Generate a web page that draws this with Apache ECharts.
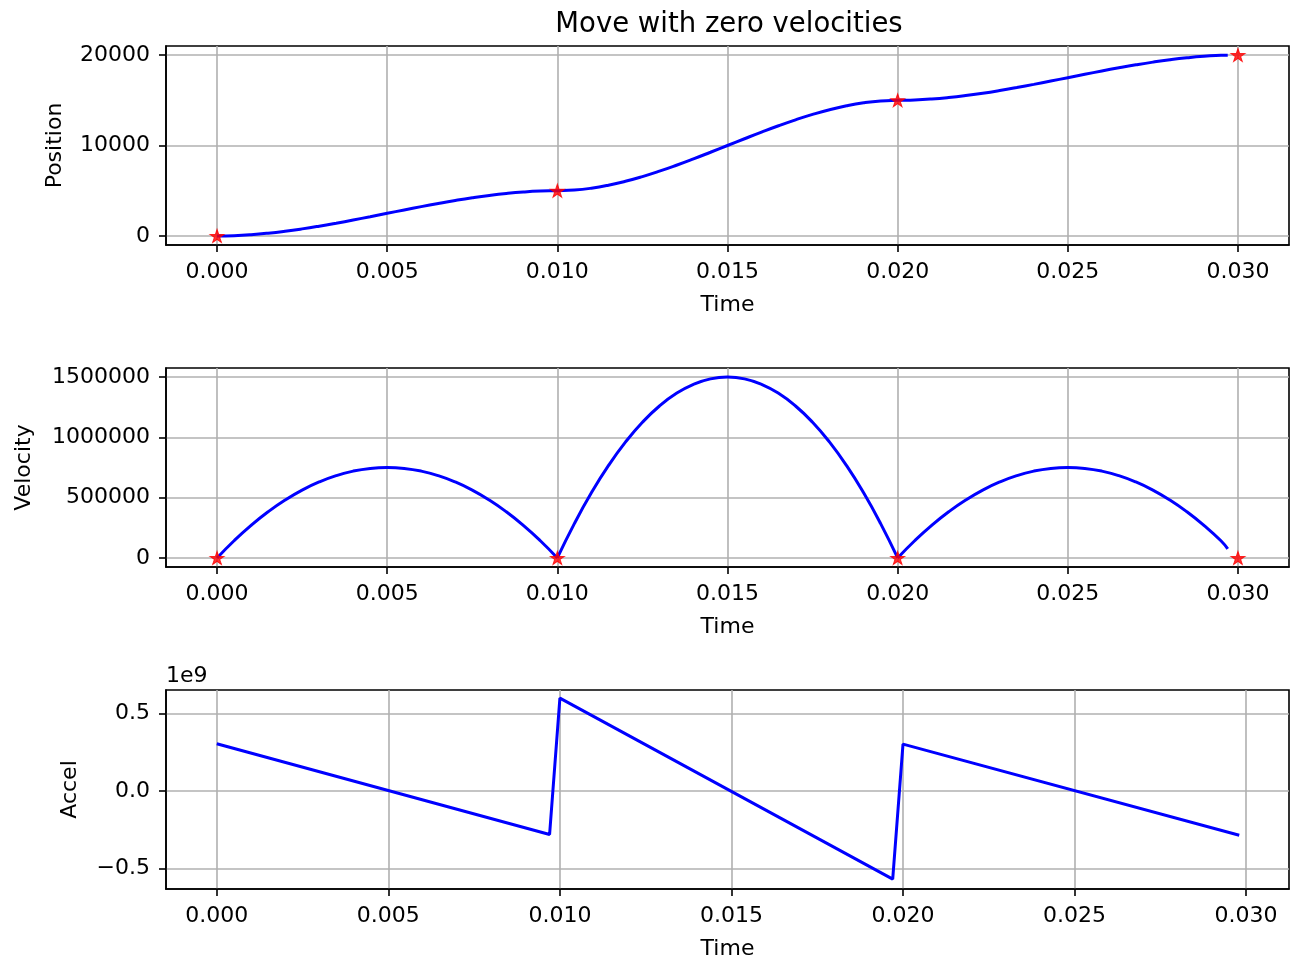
<!DOCTYPE html>
<html>
<head>
<meta charset="utf-8">
<title>Move with zero velocities</title>
<script src="https://cdn.jsdelivr.net/npm/echarts@6/dist/echarts.min.js"></script>
<style>
  html, body { margin: 0; padding: 0; background: #fff; }
  #main { width: 1291px; height: 961px; }
</style>
</head>
<body>
<div id="main"></div>
<script>
// sample times (s) and values
var time = [0, 0.0005, 0.001, 0.0015, 0.002, 0.0025, 0.003, 0.0035, 0.004, 0.0045,
            0.005, 0.0055, 0.006, 0.0065, 0.007, 0.0075, 0.008, 0.0085, 0.009, 0.0095,
            0.010, 0.0105, 0.011, 0.0115, 0.012, 0.0125, 0.013, 0.0135, 0.014, 0.0145,
            0.015, 0.0155, 0.016, 0.0165, 0.017, 0.0175, 0.018, 0.0185, 0.019, 0.0195,
            0.020, 0.0205, 0.021, 0.0215, 0.022, 0.0225, 0.023, 0.0235, 0.024, 0.0245,
            0.025, 0.0255, 0.026, 0.0265, 0.027, 0.0275, 0.028, 0.0285, 0.029, 0.0295, 0.0297];
var position = [0, 36, 140, 304, 520, 781, 1080, 1409, 1760, 2126,
                2500, 2874, 3240, 3591, 3920, 4219, 4480, 4696, 4860, 4964,
                5000, 5073, 5280, 5608, 6040, 6563, 7160, 7818, 8520, 9253,
                10000, 10748, 11480, 12183, 12840, 13438, 13960, 14393, 14720, 14928,
                15000, 15036, 15140, 15304, 15520, 15781, 16080, 16409, 16760, 17126,
                17500, 17874, 18240, 18591, 18920, 19219, 19480, 19696, 19860, 19964, 19987];
var velocity = [0, 142500, 270000, 382500, 480000, 562500, 630000, 682500, 720000, 742500,
                750000, 742500, 720000, 682500, 630000, 562500, 480000, 382500, 270000, 142500,
                0, 285000, 540000, 765000, 960000, 1125000, 1260000, 1365000, 1440000, 1485000,
                1500000, 1485000, 1440000, 1365000, 1260000, 1125000, 960000, 765000, 540000, 285000,
                0, 142500, 270000, 382500, 480000, 562500, 630000, 682500, 720000, 742500,
                750000, 742500, 720000, 682500, 630000, 562500, 480000, 382500, 270000, 142500, 75000];
var accelTime = [0, 0.0097, 0.0100, 0.0197, 0.0200, 0.0298];
var accel = [3.05e8, -2.8e8, 6.0e8, -5.68e8, 3.03e8, -2.85e8];

// waypoints (red stars)
var wpTime = [0, 0.01, 0.02, 0.03];
var wpPos = [0, 5000, 15000, 20000];
var wpVel = [0, 0, 0, 0];

// tick labels
var xTicks = [0, 0.005, 0.010, 0.015, 0.020, 0.025, 0.030];
var posTicks = [0, 10000, 20000];
var velTicks = [0, 500000, 1000000, 1500000];
var accTicks = [-5e8, 0, 5e8];

var FONT = 'DejaVu Sans';
var BLUE = '#0000ff';
var STAR = 'path://M0,-1L-0.2245,-0.309L-0.9511,-0.309L-0.3633,0.118L-0.5878,0.809L0,0.382L0.5878,0.809L0.3633,0.118L0.9511,-0.309L0.2245,-0.309Z';

function zip(xs, ys) {
    var out = [];
    for (var i = 0; i < xs.length; i++) out.push([xs[i], ys[i]]);
    return out;
}

function xAxisFor(idx, min, max) {
    return {
        type: 'value', gridIndex: idx, min: min, max: max,
        axisLine: { show: true, onZero: false, lineStyle: { color: '#000', width: 1.6 } },
        axisTick: { show: true, length: 7, customValues: xTicks, lineStyle: { color: '#000', width: 1.6 } },
        axisLabel: { customValues: xTicks, color: '#000', fontSize: 22, fontFamily: FONT, margin: 16,
            formatter: function (v) { return v.toFixed(3); } },
        splitLine: { show: true, lineStyle: { color: '#b0b0b0', width: 1.6 } },
        name: 'Time', nameLocation: 'middle', nameGap: 49,
        nameTextStyle: { color: '#000', fontSize: 22, fontFamily: FONT }
    };
}

function yAxisFor(idx, min, max, ticks, name, gap, fmt) {
    return {
        type: 'value', gridIndex: idx, min: min, max: max,
        axisLine: { show: true, onZero: false, lineStyle: { color: '#000', width: 1.6 } },
        axisTick: { show: true, length: 7, customValues: ticks, lineStyle: { color: '#000', width: 1.6 } },
        axisLabel: { customValues: ticks, color: '#000', fontSize: 22, fontFamily: FONT, margin: 16, formatter: fmt },
        splitLine: { show: true, lineStyle: { color: '#b0b0b0', width: 1.6 } },
        name: name, nameLocation: 'middle', nameGap: gap,
        nameTextStyle: { color: '#000', fontSize: 22, fontFamily: FONT }
    };
}

function blueLine(xi, data, smooth) {
    return {
        type: 'line', xAxisIndex: xi, yAxisIndex: xi, data: data, smooth: smooth,
        showSymbol: false, symbol: 'none', animation: false,
        lineStyle: { color: BLUE, width: 3 }, z: 3
    };
}

function stars(xi, data) {
    return {
        type: 'scatter', xAxisIndex: xi, yAxisIndex: xi, data: data,
        symbol: STAR, symbolSize: [14, 13], animation: false,
        itemStyle: { color: '#ff0000', borderColor: '#ff0000', borderWidth: 1 }, z: 4
    };
}

var myChart = echarts.init(document.getElementById('main'));

var velData = zip(time, velocity);

var option = {
    backgroundColor: '#fff',
    animation: false,
    title: {
        text: 'Move with zero velocities', left: 724, top: 6, textAlign: 'center',
        textStyle: { color: '#000', fontSize: 27.5, fontWeight: 'normal', fontFamily: FONT }
    },
    graphic: [{
        type: 'text', left: 166, top: 665,
        style: { text: '1e9', fill: '#000', fontSize: 22, fontFamily: FONT }
    }],
    grid: [
        { left: 166, top: 46, width: 1123, height: 199, show: true, borderColor: '#000', borderWidth: 1.6 },
        { left: 166, top: 368, width: 1123, height: 199, show: true, borderColor: '#000', borderWidth: 1.6 },
        { left: 166, top: 690, width: 1123, height: 199, show: true, borderColor: '#000', borderWidth: 1.6 }
    ],
    xAxis: [
        xAxisFor(0, -0.0015, 0.0315),
        xAxisFor(1, -0.0015, 0.0315),
        xAxisFor(2, -0.00148, 0.03125)
    ],
    yAxis: [
        yAxisFor(0, -1000, 21000, posTicks, 'Position', 100, function (v) { return String(v); }),
        yAxisFor(1, -75000, 1575000, velTicks, 'Velocity', 131, function (v) { return String(v); }),
        yAxisFor(2, -6.32e8, 6.52e8, accTicks, 'Accel', 85, function (v) {
            var s = (v / 1e9).toFixed(1);
            return v < 0 ? '\u2212' + s.substring(1) : s;
        })
    ],
    series: [
        blueLine(0, zip(time, position), true),
        stars(0, zip(wpTime, wpPos)),
        blueLine(1, velData.slice(0, 21), true),
        blueLine(1, velData.slice(20, 41), true),
        blueLine(1, velData.slice(40), true),
        stars(1, zip(wpTime, wpVel)),
        blueLine(2, zip(accelTime, accel), false)
    ]
};

myChart.setOption(option);
</script>
</body>
</html>
